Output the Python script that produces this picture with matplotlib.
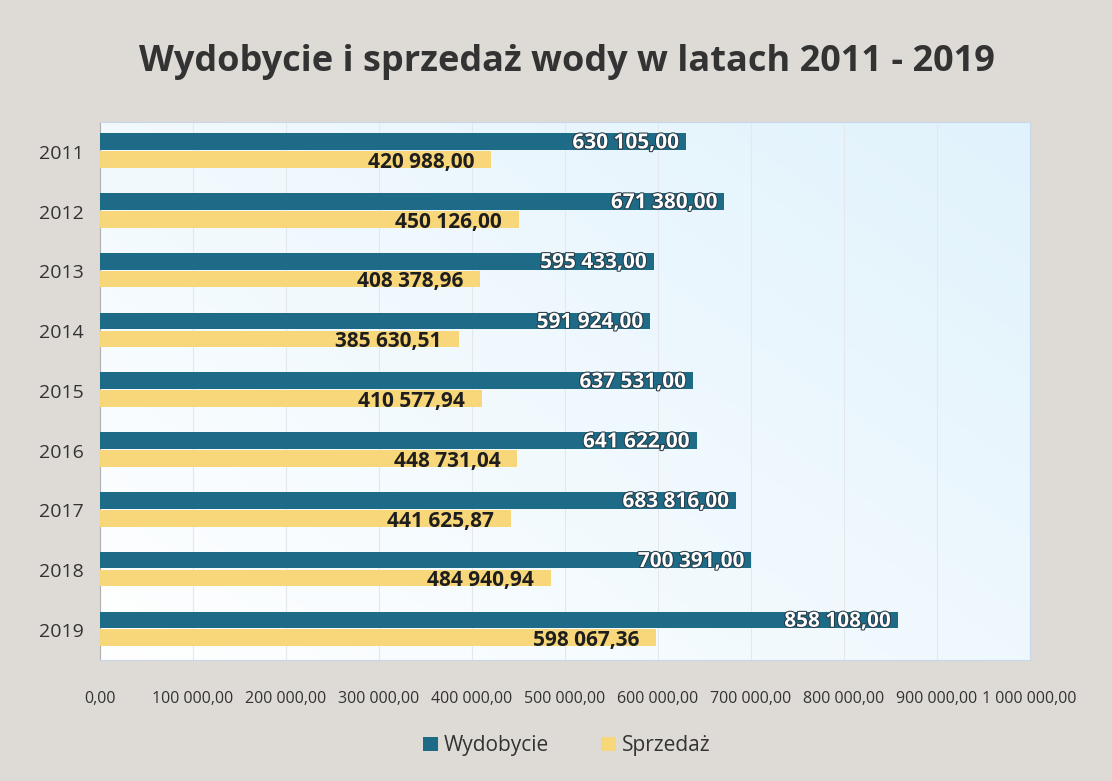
#!/usr/bin/env python3
"""Wydobycie i sprzedaz wody - horizontal bar chart."""

import numpy as np
import matplotlib
matplotlib.use("Agg")
import matplotlib.pyplot as plt
import matplotlib.patheffects as pe
from matplotlib.ticker import FixedLocator, FuncFormatter

years = ["2011", "2012", "2013", "2014", "2015", "2016", "2017", "2018", "2019"]
wydobycie = [630105.00, 671380.00, 595433.00, 591924.00, 637531.00,
             641622.00, 683816.00, 700391.00, 858108.00]
sprzedaz = [420988.00, 450126.00, 408378.96, 385630.51, 410577.94,
            448731.04, 441625.87, 484940.94, 598067.36]
x_ticks = [0, 100000, 200000, 300000, 400000, 500000,
           600000, 700000, 800000, 900000, 1000000]

BLUE = "#1d6b87"
YELLOW = "#f8d67a"


def pl_format(v):
    # polish style: space thousands, comma decimal
    s = f"{v:,.2f}"
    return s.replace(",", " ").replace(".", ",")


plt.rcParams['font.family'] = ['Open Sans', 'DejaVu Sans']

fig = plt.figure(figsize=(11.12, 7.81), dpi=100)
fig.patch.set_facecolor("#dedad6")
ax = fig.add_axes([0.09, 0.155, 0.836, 0.689])

# soft background gradient in the plot area
grad = np.linspace(0, 1, 256)
gx, gy = np.meshgrid(grad, grad)
g = np.clip(0.55 * gx + 0.45 * gy, 0, 1)
img = np.zeros((256, 256, 3))
img[..., 0] = 1 - 0.12 * g
img[..., 1] = 1 - 0.05 * g
img[..., 2] = 1 - 0.01 * g
ax.imshow(img, extent=[0, 1, 0, 1], transform=ax.transAxes,
          aspect="auto", zorder=0, origin="lower")

y = np.arange(len(years))
h = 0.28
off_w, off_s = -0.17, 0.13
ax.barh(y + off_w, wydobycie, height=h, color=BLUE, zorder=3, label="Wydobycie")
ax.barh(y + off_s, sprzedaz, height=h, color=YELLOW, zorder=3, label="Sprzedaż")

for yi, w, s in zip(y, wydobycie, sprzedaz):
    ax.annotate(pl_format(w), (w, yi + off_w), xytext=(-5, -1),
                textcoords="offset points", ha="right", va="center",
                fontsize=15, fontweight="bold", color="white", zorder=5,
                path_effects=[pe.withStroke(linewidth=1.5, foreground="#2a3a44")])
    ax.annotate(pl_format(s), (s, yi + off_s), xytext=(-12, -2),
                textcoords="offset points", ha="right", va="center",
                fontsize=15, fontweight="bold", color="#1e1e1e", zorder=5)

ax.set_xlim(0, 1000000)
ax.set_ylim(len(years) - 0.5, -0.5)
ax.set_yticks(y)
ax.set_yticklabels(years, fontsize=14, color="#333333")
ax.xaxis.set_major_locator(FixedLocator(x_ticks))
ax.xaxis.set_major_formatter(FuncFormatter(lambda v, p: pl_format(v)))
# the original labels run into each other; keep them just small enough to fit
ax.tick_params(axis="x", labelsize=11.5, colors="#333333", length=0, pad=22)
ax.tick_params(axis="y", length=0, pad=12)
ax.grid(axis="x", color="#e4e8ec", linewidth=0.8, zorder=1)
for side in ["top", "right", "bottom"]:
    ax.spines[side].set_color("#c8d8e8")
ax.spines["left"].set_color("#b0b0b0")

fig.text(0.51, 0.92, "Wydobycie i sprzedaż wody w latach 2011 - 2019",
         ha="center", va="center", fontsize=26, fontweight="bold", color="#333333")

leg = fig.legend(loc="center", bbox_to_anchor=(0.51, 0.045), ncol=2, frameon=False,
                 fontsize=15, handlelength=0.7, handleheight=0.7, columnspacing=2.5,
                 handletextpad=0.3)
for t in leg.get_texts():
    t.set_color("#333333")

fig.savefig("out.png", dpi=100, facecolor=fig.get_facecolor())
